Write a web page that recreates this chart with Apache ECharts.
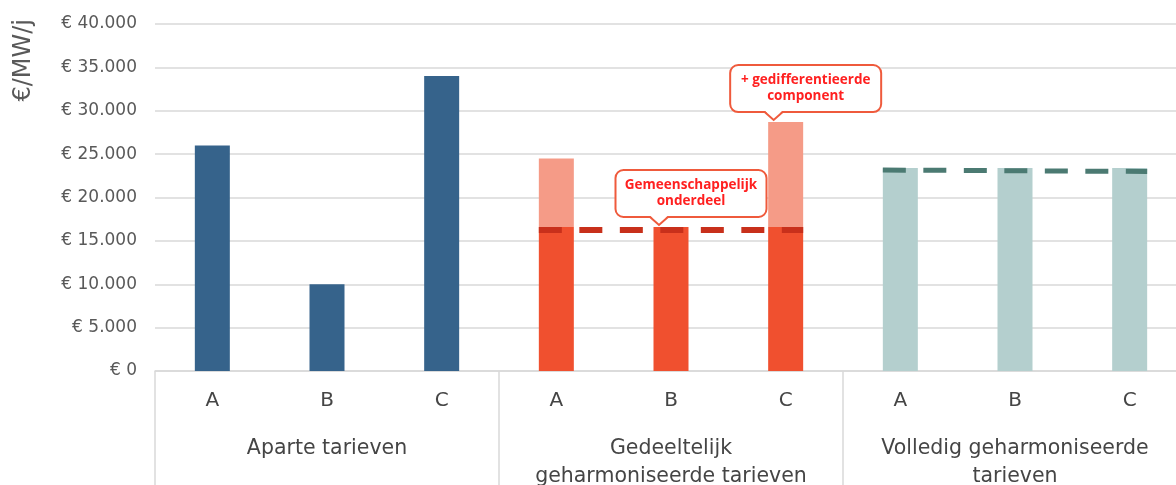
<!DOCTYPE html>
<html>
<head>
<meta charset="utf-8">
<script src="https://cdn.jsdelivr.net/npm/echarts@6/dist/echarts.min.js"></script>
<style>
html,body{margin:0;padding:0;background:#fff;}
#chart{width:1176px;height:485px;}
</style>
</head>
<body>
<div id="chart"></div>
<script>
// ---- data ----
const groups = ['Aparte tarieven', 'Gedeeltelijk\ngeharmoniseerde tarieven', 'Volledig geharmoniseerde\ntarieven'];
const subCategories = ['A', 'B', 'C'];
const aparte = [26000, 10000, 34000];
const gemeenschappelijk = [16600, 16600, 16600];
const gedeeltelijkTotaal = [24500, 16600, 28700];
const volledig = [23400, 23400, 23400];
const gemeenschappelijkNiveau = [16250, 16250];
const volledigNiveau = [23170, 23000];
const callouts = ['Gemeenschappelijk\nonderdeel', '+ gedifferentieerde\ncomponent'];
const yMin = 0, yMax = 40000, yStep = 5000;

// ---- styles ----
const FONT = '"DejaVu Sans", sans-serif';
const CFONT = '"Open Sans", sans-serif';
const groupColors = ['#36638B', '#F0502F', '#B4CFCE'];
const lightRed = '#F59B87';
const gridGrey = '#D9D9D9';

const xData = [];
groups.forEach(() => subCategories.forEach(s => xData.push(s)));
const baseData = [...aparte, ...gemeenschappelijk, ...volledig];
const extraData = [null, null, null,
  ...gedeeltelijkTotaal.map((v, i) => v - gemeenschappelijk[i]),
  null, null, null];

const BAR_W = 35;

function fmtEuro(v) {
  const s = String(Math.round(v)).replace(/\B(?=(\d{3})+(?!\d))/g, '.');
  return '€ ' + s;
}

const chart = echarts.init(document.getElementById('chart'));
chart.setOption({
  animation: false,
  backgroundColor: '#fff',
  grid: { left: 155, right: -11, top: 24, bottom: 114, outerBoundsMode: 'none', containLabel: false },
  graphic: [{
    type: 'text',
    left: 12,
    top: 19,
    rotation: Math.PI / 2,
    style: { text: '€/MW/j', font: '24px ' + FONT, fill: '#595959' }
  }],
  xAxis: [{
    type: 'category',
    data: xData,
    axisLine: { lineStyle: { color: gridGrey, width: 1.5 } },
    axisTick: { show: false },
    axisLabel: { color: '#454545', fontSize: 20, fontFamily: FONT, margin: 20, lineHeight: 20, interval: 0 }
  }, {
    type: 'category',
    data: groups,
    position: 'bottom',
    axisLine: { show: false },
    axisTick: { show: true, length: 116, interval: 0, lineStyle: { color: gridGrey, width: 1.5 } },
    axisLabel: { color: '#454545', fontSize: 20.5, fontFamily: FONT, margin: 64, lineHeight: 28, interval: 0 }
  }],
  yAxis: {
    type: 'value',
    min: yMin, max: yMax, interval: yStep,
    axisLine: { show: false },
    axisTick: { show: false },
    splitLine: { lineStyle: { color: gridGrey, width: 1.5 } },
    axisLabel: { color: '#595959', fontSize: 17, fontFamily: FONT, margin: 18, formatter: fmtEuro }
  },
  series: [{
    type: 'bar',
    stack: 'tot',
    barWidth: BAR_W,
    data: baseData,
    itemStyle: { color: p => groupColors[Math.floor(p.dataIndex / 3)] }
  }, {
    type: 'bar',
    stack: 'tot',
    barWidth: BAR_W,
    data: extraData,
    itemStyle: { color: lightRed }
  }, {
    type: 'custom',
    z: 5,
    data: [
      [3, 5, gemeenschappelijkNiveau[0], gemeenschappelijkNiveau[1], 0],
      [6, 8, volledigNiveau[0], volledigNiveau[1], 1]
    ],
    renderItem: function (params, api) {
      const p1 = api.coord([api.value(0), api.value(2)]);
      const p2 = api.coord([api.value(1), api.value(3)]);
      const red = api.value(4) === 0;
      return {
        type: 'line',
        shape: { x1: p1[0] - BAR_W / 2, y1: p1[1], x2: p2[0] + BAR_W / 2, y2: p2[1] },
        style: {
          stroke: red ? '#C8301B' : '#4B7A72',
          lineWidth: red ? 6 : 5,
          lineDash: [23, 17.5]
        }
      };
    }
  }, {
    type: 'custom',
    z: 6,
    data: [
      [4, gemeenschappelijk[1], 0],
      [5, gedeeltelijkTotaal[2], 1]
    ],
    renderItem: function (params, api) {
      const p = api.coord([api.value(0), api.value(1)]);
      const text = callouts[api.value(2)];
      const tipX = p[0] - 12, tipY = p[1] - 2;
      const boxW = 151, boxH = 47;
      const boxBottom = tipY - 8;
      const boxTop = boxBottom - boxH;
      const cx = tipX + 32;
      const stroke = '#EF5A3C';
      return {
        type: 'group',
        children: [{
          type: 'rect',
          shape: { x: cx - boxW / 2, y: boxTop, width: boxW, height: boxH, r: 8 },
          style: { fill: '#fff', stroke: stroke, lineWidth: 2 }
        }, {
          type: 'polygon',
          shape: { points: [[tipX - 9, boxBottom - 1.5], [tipX + 9, boxBottom - 1.5], [tipX, tipY]] },
          style: { fill: '#fff' }
        }, {
          type: 'polyline',
          shape: { points: [[tipX - 9, boxBottom], [tipX, tipY], [tipX + 9, boxBottom]] },
          style: { fill: null, stroke: stroke, lineWidth: 2 }
        }, {
          type: 'text',
          style: {
            text: text, x: cx, y: boxTop + boxH / 2,
            fill: '#FF2020', font: 'bold 13.5px ' + CFONT,
            align: 'center', verticalAlign: 'middle', lineHeight: 16
          }
        }]
      };
    }
  }]
});
</script>
</body>
</html>
